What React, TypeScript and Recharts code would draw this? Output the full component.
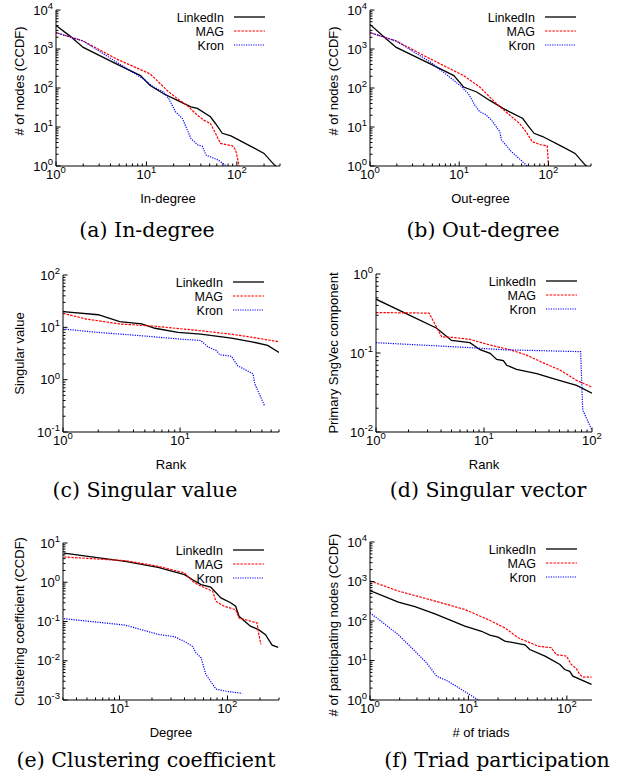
import React from 'react';
import { LineChart, Line, XAxis, YAxis, Legend } from 'recharts';

type Pt = [number, number];

// (a) In-degree CCDF
const inDegLinkedIn: Pt[] = [[1, 4000], [1.43, 2140], [2, 1100], [4.7, 410], [8.6, 208], [11, 116], [15.5, 71], [22, 48], [31, 33], [36.6, 30], [51, 18.3], [58, 12.3], [69, 6.9], [86, 5.9], [143, 3.2], [200, 2.1], [259, 1.07], [270, 1]];
const inDegMag: Pt[] = [[1, 2630], [2, 1600], [4.7, 550], [11, 230], [17, 86], [22, 53], [28, 36], [36.6, 20], [43, 15], [51, 12.3], [58, 6.9], [66, 3.8], [89, 3.3], [97, 2.6], [106, 1]];
const inDegKron: Pt[] = [[1, 2630], [2, 1600], [4.7, 455], [9.3, 170], [12, 106], [15.5, 79], [17.7, 53], [21, 24.5], [25, 16.5], [31, 5.1], [36.6, 3.5], [41.5, 3.2], [45.6, 1.9], [61, 1.45], [75, 1.04]];

// (b) Out-degree CCDF
const outDegLinkedIn: Pt[] = [[1, 4270], [1.47, 1950], [1.97, 1100], [4.8, 410], [8.7, 208], [11.2, 106], [15.7, 79], [22, 48], [31, 30], [51.6, 16.5], [58.4, 11.2], [69, 6.9], [86, 5.7], [141, 3.2], [199, 2.1], [257, 1.07], [268, 1]];
const outDegMag: Pt[] = [[1, 2630], [1.97, 1600], [4.8, 550], [11.2, 208], [17, 106], [26, 40], [37, 20], [47.5, 12.3], [56, 7.6], [66, 4.2], [82, 3.5], [97, 3.3], [100, 1]];
const outDegKron: Pt[] = [[1, 2630], [1.97, 1600], [4.8, 455], [8.3, 170], [10.7, 106], [12.7, 71], [15, 36], [17, 24.5], [19.7, 21], [23, 15], [28.5, 7.6], [29.7, 4.7], [38, 2.4], [58, 1]];

// (c) Singular values by rank
const svalLinkedIn: Pt[] = [[1, 19.9], [2, 17.4], [3.05, 12.8], [4.7, 11.6], [6.1, 9.6], [9.6, 8.0], [15, 7.4], [27.5, 6.2], [41, 5.3], [56, 4.5], [70, 3.3]];
const svalMag: Pt[] = [[1, 18.5], [1.58, 14.4], [3.05, 11.6], [6.1, 10.5], [15, 8.6], [27.5, 7.4], [42, 6.4], [70, 5.3]];
const svalKron: Pt[] = [[1, 9.3], [2, 8.0], [4.7, 6.9], [9.6, 6.0], [15, 5.6], [17.4, 4.2], [20.4, 3.6], [21.8, 3.0], [27.5, 2.8], [31, 1.85], [42, 1.29], [43.5, 0.83], [52.6, 0.32]];

// (d) Primary singular vector components by rank
const svecLinkedIn: Pt[] = [[1, 0.48], [2.06, 0.3], [3.65, 0.206], [5, 0.144], [7.4, 0.135], [9.2, 0.11], [11.4, 0.099], [13.1, 0.083], [15.1, 0.08], [16.2, 0.07], [20, 0.062], [30.8, 0.055], [47, 0.046], [72, 0.039], [100, 0.031]];
const svecMag: Pt[] = [[1, 0.325], [3.1, 0.32], [4.06, 0.16], [5, 0.158], [7.4, 0.149], [11.4, 0.126], [17.4, 0.11], [24.8, 0.094], [35.4, 0.075], [50.5, 0.061], [72, 0.045], [100, 0.037]];
const svecKron: Pt[] = [[1, 0.135], [7.4, 0.117], [15.1, 0.11], [78.5, 0.104], [82, 0.019], [100, 0.0105]];

// (e) Clustering coefficient by degree
const clustLinkedIn: Pt[] = [[3.06, 5.5], [11.3, 3.4], [22.8, 2.4], [40, 1.56], [47.6, 1.16], [57, 0.87], [70, 0.75], [87, 0.4], [107, 0.3], [119, 0.245], [128, 0.136], [163, 0.076], [194, 0.062], [225, 0.046], [259, 0.025], [295, 0.022]];
const clustMag: Pt[] = [[3.06, 4.4], [11.3, 3.55], [22.8, 2.55], [40, 1.73], [47.6, 1.06], [53, 0.87], [73, 0.59], [78, 0.33], [93, 0.245], [119, 0.2], [128, 0.123], [188, 0.092], [194, 0.051], [204, 0.026]];
const clustKron: Pt[] = [[3.06, 0.118], [11.3, 0.081], [22.8, 0.047], [32.4, 0.041], [40, 0.031], [47.6, 0.023], [51, 0.016], [57, 0.0118], [63, 0.0045], [78, 0.0019], [100, 0.00165], [137, 0.00148]];

// (f) Triad participation CCDF
const triadLinkedIn: Pt[] = [[1, 590], [1.94, 300], [2.86, 230], [4.57, 152], [9.2, 74], [13.6, 55], [16.5, 44], [20, 39], [23.4, 31], [37.5, 25], [42, 19], [60, 12.9], [85, 7.9], [95, 5.9], [107, 5.3], [115, 4.0], [178, 2.5]];
const triadMag: Pt[] = [[1, 1030], [1.94, 575], [4.57, 320], [9.2, 195], [15.8, 109], [23.4, 67], [32, 37.6], [51, 23], [69.6, 21], [78, 14.1], [99, 12.9], [111, 7.9], [125, 6.2], [135, 4.4], [146, 3.8], [178, 3.8]];
const triadKron: Pt[] = [[1, 162], [1.94, 45], [2.86, 17.3], [3.76, 8.7], [4.75, 4.0], [6.2, 3.0], [12.6, 1]];

const seriesNames = ['LinkedIn', 'MAG', 'Kron'];
const seriesStyles = [
  { color: '#000000', dash: undefined as string | undefined, width: 1.3 },
  { color: '#ff0000', dash: '2.5 1.2', width: 1.2 },
  { color: '#0000ff', dash: '1.2 1.2', width: 1.2 },
];

const SANS = '"Liberation Sans", Arial, Helvetica, sans-serif';
const SERIF = '"DejaVu Serif", serif';
const FS = 13;
const KEY_FS = 12.5;

// 1..9 x 10^k values inside [lo, hi]
function logTicks(lo: number, hi: number) {
  const out: number[] = [];
  for (let k = Math.floor(Math.log10(lo)); k <= Math.ceil(Math.log10(hi)); k++) {
    for (let m = 1; m <= 9; m++) {
      const v = Number((m * Math.pow(10, k)).toPrecision(6));
      if (v >= lo * 0.9999 && v <= hi * 1.0001) out.push(v);
    }
  }
  return out;
}

const isMajor = (v: number) => Math.abs(Math.log10(v) - Math.round(Math.log10(v))) < 1e-6;

function Pow({ v }: { v: number }) {
  return (
    <>
      10<tspan dy={-5.5} fontSize={9.5}>{Math.round(Math.log10(v))}</tspan>
    </>
  );
}

const MAJ = 4.5;
const MIN = 2.5;

const BottomTick = (props: any) => {
  const { x, y, payload } = props;
  const major = isMajor(payload.value);
  return (
    <g>
      <line x1={x} y1={y} x2={x} y2={y - (major ? MAJ : MIN)} stroke="#000" />
      {major && (
        <text x={x} y={y + 12.5} textAnchor="middle" fontFamily={SANS} fontSize={FS} fill="#000">
          <Pow v={payload.value} />
        </text>
      )}
    </g>
  );
};

const TopTick = (props: any) => {
  const { x, y, payload } = props;
  const major = isMajor(payload.value);
  return <line x1={x} y1={y} x2={x} y2={y + (major ? MAJ : MIN)} stroke="#000" />;
};

const LeftTick = (props: any) => {
  const { x, y, payload } = props;
  const major = isMajor(payload.value);
  return (
    <g>
      <line x1={x} y1={y} x2={x + (major ? MAJ : MIN)} y2={y} stroke="#000" />
      {major && (
        <text x={x - 3} y={y + 4.5} textAnchor="end" fontFamily={SANS} fontSize={FS} fill="#000">
          <Pow v={payload.value} />
        </text>
      )}
    </g>
  );
};

const RightTick = (props: any) => {
  const { x, y, payload } = props;
  const major = isMajor(payload.value);
  return <line x1={x} y1={y} x2={x - (major ? MAJ : MIN)} y2={y} stroke="#000" />;
};

interface PanelSpec {
  left: number;
  top: number;
  right: number;
  bottom: number;
  xDomain: [number, number];
  yDomain: [number, number];
  xLabel: string;
  yLabel: string;
  yLabelDist: number;
  yLabelDy: number;
  caption: string;
  captionX: number;
  captionY: number;
  data: Pt[][];
}

const panels: PanelSpec[] = [
  { left: 56, top: 10, right: 280, bottom: 166, xDomain: [1, 300], yDomain: [1, 10000], xLabel: 'In-degree', yLabel: '# of nodes (CCDF)', yLabelDist: 37, yLabelDy: -7, caption: '(a) In-degree', captionX: 147, captionY: 230, data: [inDegLinkedIn, inDegMag, inDegKron] },
  { left: 370, top: 10, right: 591, bottom: 166, xDomain: [1, 300], yDomain: [1, 10000], xLabel: 'Out-egree', yLabel: '# of nodes (CCDF)', yLabelDist: 37, yLabelDy: -7, caption: '(b) Out-degree', captionX: 483, captionY: 230, data: [outDegLinkedIn, outDegMag, outDegKron] },
  { left: 63, top: 275, right: 279, bottom: 432, xDomain: [1, 70], yDomain: [0.1, 100], xLabel: 'Rank', yLabel: 'Singular value', yLabelDist: 44, yLabelDy: 0, caption: '(c) Singular value', captionX: 145, captionY: 490, data: [svalLinkedIn, svalMag, svalKron] },
  { left: 376, top: 274, right: 592, bottom: 432, xDomain: [1, 100], yDomain: [0.01, 1], xLabel: 'Rank', yLabel: 'Primary SngVec component', yLabelDist: 43, yLabelDy: 0, caption: '(d) Singular vector', captionX: 488, captionY: 490, data: [svecLinkedIn, svecMag, svecKron] },
  { left: 63, top: 543, right: 279, bottom: 700, xDomain: [3, 300], yDomain: [0.001, 10], xLabel: 'Degree', yLabel: 'Clustering coefficient (CCDF)', yLabelDist: 44, yLabelDy: 0, caption: '(e) Clustering coefficient', captionX: 146, captionY: 760, data: [clustLinkedIn, clustMag, clustKron] },
  { left: 370, top: 542, right: 592, bottom: 700, xDomain: [1, 180], yDomain: [1, 10000], xLabel: '# of triads', yLabel: '# of participating nodes (CCDF)', yLabelDist: 37, yLabelDy: 4, caption: '(f) Triad participation', captionX: 497, captionY: 760, data: [triadLinkedIn, triadMag, triadKron] },
];

const ML = 56;
const MT = 12;
const MR = 12;
const XH = 45;

function KeyBox() {
  return (
    <svg width={140} height={46} style={{ display: 'block' }}>
      {seriesNames.map((name, i) => {
        const cy = 6 + i * 14;
        const st = seriesStyles[i];
        return (
          <g key={name}>
            <text x={84} y={cy + 4.5} textAnchor="end" fontFamily={SANS} fontSize={KEY_FS} fill="#000">
              {name}
            </text>
            <line x1={94} y1={cy} x2={125} y2={cy} stroke={st.color} strokeWidth={st.width} strokeDasharray={st.dash} />
          </g>
        );
      })}
    </svg>
  );
}

function Panel({ p }: { p: PanelSpec }) {
  const plotW = p.right - p.left;
  const plotH = p.bottom - p.top;
  const W = plotW + ML + MR;
  const H = plotH + MT + XH;
  const xTicks = logTicks(p.xDomain[0], p.xDomain[1]);
  const yTicks = logTicks(p.yDomain[0], p.yDomain[1]);
  const axisLine = { stroke: '#000', strokeWidth: 1 };

  return (
    <>
      <div style={{ position: 'absolute', left: p.left - ML, top: p.top - MT }}>
        <LineChart width={W} height={H} margin={{ top: MT, right: MR, bottom: 0, left: 0 }}>
          <XAxis
            xAxisId="b"
            dataKey="x"
            type="number"
            scale="log"
            domain={p.xDomain}
            allowDataOverflow
            ticks={xTicks}
            interval={0}
            tickSize={0}
            tickMargin={0}
            tickLine={false}
            axisLine={axisLine}
            height={XH}
            tick={BottomTick}
            label={(lp: any) => {
              const vb = lp.viewBox;
              return (
                <text x={vb.x + vb.width / 2} y={vb.y + 36.5} textAnchor="middle" fontFamily={SANS} fontSize={FS} fill="#000">
                  {p.xLabel}
                </text>
              );
            }}
          />
          <XAxis
            xAxisId="t"
            orientation="top"
            type="number"
            scale="log"
            domain={p.xDomain}
            allowDataOverflow
            ticks={xTicks}
            interval={0}
            tickSize={0}
            tickMargin={0}
            tickLine={false}
            axisLine={axisLine}
            height={0}
            tick={TopTick}
          />
          <YAxis
            yAxisId="l"
            type="number"
            scale="log"
            domain={p.yDomain}
            allowDataOverflow
            ticks={yTicks}
            interval={0}
            tickSize={0}
            tickMargin={0}
            tickLine={false}
            axisLine={axisLine}
            width={ML}
            tick={LeftTick}
            label={(lp: any) => {
              const vb = lp.viewBox;
              const cx = vb.x + vb.width - p.yLabelDist;
              const cy = vb.y + vb.height / 2 + p.yLabelDy;
              return (
                <text
                  x={cx}
                  y={cy}
                  transform={`rotate(-90 ${cx} ${cy})`}
                  textAnchor="middle"
                  dominantBaseline="central"
                  fontFamily={SANS}
                  fontSize={FS}
                  fill="#000"
                >
                  {p.yLabel}
                </text>
              );
            }}
          />
          <YAxis
            yAxisId="r"
            orientation="right"
            type="number"
            scale="log"
            domain={p.yDomain}
            allowDataOverflow
            ticks={yTicks}
            interval={0}
            tickSize={0}
            tickMargin={0}
            tickLine={false}
            axisLine={axisLine}
            width={0}
            tick={RightTick}
          />
          {p.data.map((pts, i) => (
            <Line
              key={seriesNames[i]}
              name={seriesNames[i]}
              xAxisId="b"
              yAxisId="l"
              data={pts.map(([x, y]) => ({ x, y }))}
              dataKey="y"
              type="linear"
              stroke={seriesStyles[i].color}
              strokeWidth={seriesStyles[i].width}
              strokeDasharray={seriesStyles[i].dash}
              dot={false}
              activeDot={false}
              isAnimationActive={false}
            />
          ))}
          <Legend
            layout="vertical"
            align="center"
            verticalAlign="middle"
            wrapperStyle={{ left: ML + plotW - 140, top: MT + 1, width: 140, height: 46 }}
            content={() => <KeyBox />}
          />
        </LineChart>
      </div>
      <div
        style={{
          position: 'absolute',
          left: p.captionX - 200,
          top: p.captionY - 14,
          width: 400,
          height: 28,
          lineHeight: '28px',
          textAlign: 'center',
          fontFamily: SERIF,
          fontSize: 20.5,
          color: '#000',
          whiteSpace: 'nowrap',
        }}
      >
        {p.caption}
      </div>
    </>
  );
}

export default function App() {
  return (
    <div style={{ position: 'absolute', left: 0, top: 0, width: 624, height: 780, background: '#fff' }}>
      {panels.map((p) => (
        <Panel key={p.caption} p={p} />
      ))}
    </div>
  );
}
